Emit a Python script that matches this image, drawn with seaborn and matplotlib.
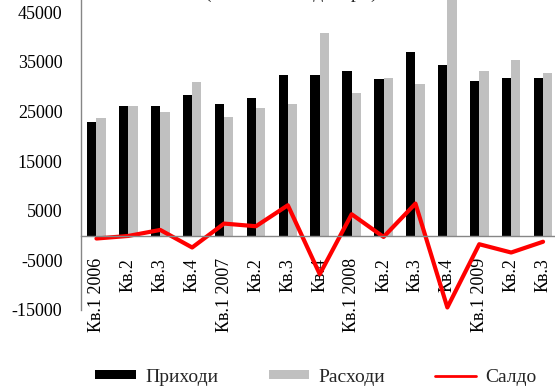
import numpy as np
import pandas as pd
import matplotlib
matplotlib.use("Agg")
import matplotlib.pyplot as plt
from matplotlib.patches import Patch
from matplotlib.lines import Line2D
import seaborn as sns

# Quarterly budget figures, millions of denars
quarters = ["Кв.1 2006", "Кв.2", "Кв.3", "Кв.4",
            "Кв.1 2007", "Кв.2", "Кв.3", "Кв.4",
            "Кв.1 2008", "Кв.2", "Кв.3", "Кв.4",
            "Кв.1 2009", "Кв.2", "Кв.3"]
prihodi = [22940, 26080, 26080, 28290, 26420, 27690, 32390, 32390,
           33060, 31450, 36880, 34330, 31190, 31790, 31790]
rashodi = [23600, 26080, 24810, 30850, 23860, 25750, 26420, 40700,
           28630, 31790, 30500, 49000, 33060, 35270, 32800]
saldo = [-600, -80, 1130, -2410, 2410, 1870, 6100, -7790,
         4290, -280, 6440, -14490, -1750, -3420, -1250]
y_ticks = [-15000, -5000, 5000, 15000, 25000, 35000, 45000, 55000]

series_names = ["Приходи", "Расходи", "Салдо"]
bar_colors = ["#000000", "#c0c0c0"]
line_color = "#ff0000"
axis_color = "#868686"

sns.set_style("white")
plt.rcParams["font.family"] = ["Liberation Serif", "DejaVu Serif"]

idx = np.arange(len(quarters))
df = pd.DataFrame({
    "q": np.concatenate([idx, idx]),
    "value": prihodi + rashodi,
    "series": [series_names[0]] * len(idx) + [series_names[1]] * len(idx),
})

W, H = 555, 387
fig = plt.figure(figsize=(W / 100, H / 100), dpi=100)
ax_left, ax_bottom_px, ax_width_px = 80.5, 310, 478.5
ax_top_px = -37.5
ax = fig.add_axes([ax_left / W, (H - ax_bottom_px) / H,
                   ax_width_px / W, (ax_bottom_px - ax_top_px) / H])

sns.barplot(data=df, x="q", y="value", hue="series", palette=bar_colors,
            width=0.58, gap=0, saturation=1, linewidth=0, legend=False, ax=ax)
sns.lineplot(x=idx, y=saldo, color=line_color, linewidth=3, sort=False,
             ax=ax, legend=False)

ax.set_xlim(-0.5, len(quarters) - 0.5)
ax.set_ylim(-15000, 55000)
ax.set_yticks(y_ticks, [str(t) for t in y_ticks])
ax.set_xticks(idx, quarters)
ax.tick_params(axis="x", length=0, pad=16, colors="black",
               labelrotation=90, labelsize=13)
ax.tick_params(axis="y", length=0, pad=13, colors="black", labelsize=13)
for lbl in ax.get_xticklabels():
    lbl.set_rotation(90)
    lbl.set_ha("center")
    lbl.set_va("top")
ax.set_xlabel("")
ax.set_ylabel("")

for side in ("top", "right"):
    ax.spines[side].set_visible(False)
ax.spines["bottom"].set_position(("data", 0))
for side in ("left", "bottom"):
    ax.spines[side].set_color(axis_color)
    ax.spines[side].set_linewidth(1)

fig.text(0.525, 1 + 2.0 / H, "(во милиони денари)", ha="center",
         va="baseline", fontsize=14)

handles = [Patch(facecolor=bar_colors[0], edgecolor="none"),
           Patch(facecolor=bar_colors[1], edgecolor="none"),
           Line2D([0], [0], color=line_color, linewidth=2)]
fig.legend(handles, series_names, loc="center", ncol=3,
           bbox_to_anchor=(0.569, 1 - 377 / H), frameon=False, fontsize=14,
           handlelength=2.1, handleheight=0.38, handletextpad=0.45,
           columnspacing=2.6, borderpad=0, borderaxespad=0)

fig.savefig("out.png", dpi=100)
